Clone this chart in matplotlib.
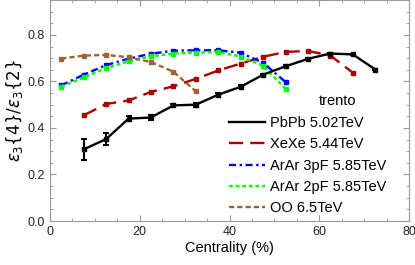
# Import ------------------------------------------------------------------------------------------------------
import numpy as np
import matplotlib
matplotlib.use("Agg")
import matplotlib.pyplot as plt
from matplotlib.ticker import MultipleLocator
from matplotlib.lines import Line2D

# Datos -------------------------------------------------------------------------------------------------------
cent_pbpb = [7.5, 12.5, 17.5, 22.5, 27.5, 32.5, 37.5, 42.5, 47.5, 52.5, 57.5, 62.5, 67.5, 72.5]
ratio_pbpb = [0.308, 0.352, 0.440, 0.445, 0.497, 0.500, 0.543, 0.577, 0.629, 0.665, 0.697, 0.720, 0.716, 0.651]
err_pbpb = [0.045, 0.025, 0.012, 0.010, 0.008, 0.008, 0.006, 0.006, 0.005, 0.005, 0.004, 0.004, 0.004, 0.004]

cent_xexe = [7.5, 12.5, 17.5, 22.5, 27.5, 32.5, 37.5, 42.5, 47.5, 52.5, 57.5, 62.5, 67.5]
ratio_xexe = [0.454, 0.503, 0.518, 0.555, 0.579, 0.611, 0.647, 0.677, 0.706, 0.727, 0.731, 0.711, 0.637]

cent_arar = [2.5, 7.5, 12.5, 17.5, 22.5, 27.5, 32.5, 37.5, 42.5, 47.5, 52.5]
ratio_arar3 = [0.583, 0.629, 0.670, 0.698, 0.719, 0.732, 0.734, 0.734, 0.723, 0.680, 0.597]
ratio_arar2 = [0.578, 0.617, 0.657, 0.686, 0.708, 0.720, 0.724, 0.726, 0.707, 0.667, 0.568]

cent_oo = [2.5, 7.5, 12.5, 17.5, 22.5, 27.5, 32.5]
ratio_oo = [0.698, 0.711, 0.714, 0.704, 0.683, 0.642, 0.557]

labels = ['PbPb 5.02TeV', 'XeXe 5.44TeV', 'ArAr 3pF 5.85TeV', 'ArAr 2pF 5.85TeV', 'OO 6.5TeV']
colores = ['black', '#aa0000', '#0000ff', '#00ff00', '#996633']
estilos = ['-', (0, (6, 3)), (0, (3, 1.5, 1, 1.5)), (0, (1.6, 1.2)), (0, (2.2, 1.3))]

x_ticks = [0, 20, 40, 60, 80]
y_ticks = [0.0, 0.2, 0.4, 0.6, 0.8]

# Grafico -----------------------------------------------------------------------------------------------------
plt.rcParams['font.family'] = ['Liberation Sans', 'DejaVu Sans']
plt.rcParams['mathtext.fontset'] = 'dejavusans'

fig = plt.figure(figsize=(4.15, 2.65), dpi=100)
ax = fig.add_axes([50 / 415, 44 / 265, 359 / 415, 221 / 265])

lw = 1.7
ms = 3.2
ax.errorbar(cent_pbpb, ratio_pbpb, yerr=err_pbpb, color=colores[0], lw=lw, ls=estilos[0], marker='s', ms=ms,
            capsize=2.5, elinewidth=1.5, capthick=1.5)
ax.plot(cent_xexe, ratio_xexe, color=colores[1], lw=lw, ls=estilos[1], marker='s', ms=ms)
ax.plot(cent_arar, ratio_arar3, color=colores[2], lw=lw, ls=estilos[2], marker='s', ms=ms)
ax.plot(cent_arar, ratio_arar2, color=colores[3], lw=lw, ls=estilos[3], marker='s', ms=ms)
ax.plot(cent_oo, ratio_oo, color=colores[4], lw=lw, ls=estilos[4], marker='s', ms=ms)

ax.set_xlim(0, 80)
ax.set_ylim(0, 0.95)
ax.set_xticks(x_ticks)
ax.set_yticks(y_ticks)
ax.set_yticklabels(['%.1f' % v for v in y_ticks])
ax.xaxis.set_minor_locator(MultipleLocator(5))
ax.yaxis.set_minor_locator(MultipleLocator(0.05))
ax.tick_params(which='both', direction='in', top=True, right=True, color='#999999',
               labelsize=9, labelcolor='#222222')
ax.tick_params(which='major', length=4, width=0.8)
ax.tick_params(which='minor', length=2.5, width=0.6)
for s in ax.spines.values():
    s.set_color('#999999')
    s.set_linewidth(0.8)

ax.set_xlabel('Centrality (%)', fontsize=10.5, labelpad=2)
ax.set_ylabel(r'$\varepsilon_3\{4\}/\varepsilon_3\{2\}$', fontsize=12, labelpad=2)

# Leyenda -----------------------------------------------------------------------------------------------------
handles = [Line2D([], [], color=c, lw=lw, ls=s) for c, s in zip(colores, estilos)]
ax.text(0.80, 0.545, 'trento', transform=ax.transAxes, fontsize=10.5, ha='center', va='center')
leg = ax.legend(handles, labels, loc='lower left', bbox_to_anchor=(0.47, -0.02), frameon=False, fontsize=10.5,
                handlelength=2.5, handletextpad=0.3, labelspacing=0.5, borderpad=0.2)

fig.savefig('out.png', dpi=100)
